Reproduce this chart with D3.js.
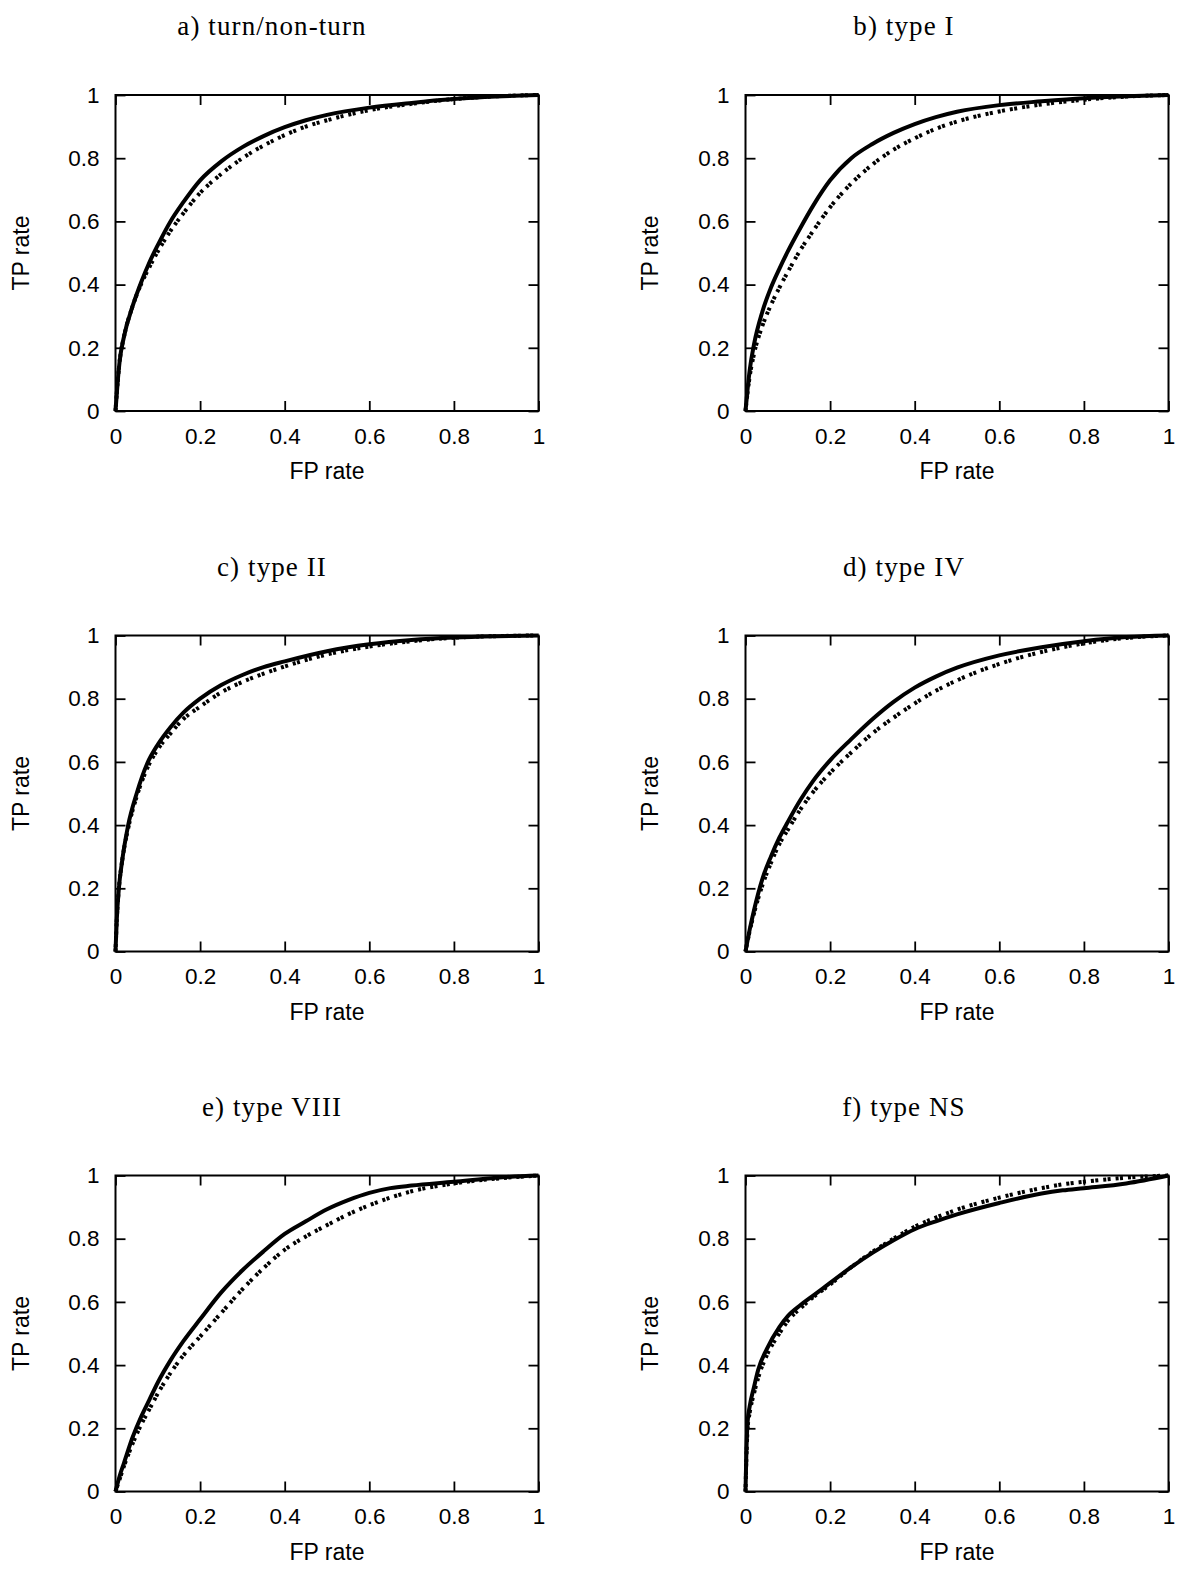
<!DOCTYPE html>
<html><head><meta charset="utf-8">
<script src="https://cdn.jsdelivr.net/npm/d3@7"></script>
<style>body{margin:0;background:#fff}</style>
</head><body><svg id="c" width="1200" height="1576"></svg>
<script>
// ---- data ----
const panelTitles = ["a) turn/non-turn", "b) type I", "c) type II", "d) type IV", "e) type VIII", "f) type NS"];
const tickValues = [0, 0.2, 0.4, 0.6, 0.8, 1];
const tickLabels = ["0", "0.2", "0.4", "0.6", "0.8", "1"];
const xLabel = "FP rate";
const yLabel = "TP rate";

const fpA = [0,0.005,0.01,0.02,0.04,0.06,0.08,0.1,0.13,0.16,0.2,0.25,0.3,0.35,0.4,0.45,0.5,0.6,0.7,0.8,0.9,1];
const tpASolid = [0,0.09,0.16,0.235,0.33,0.405,0.47,0.525,0.6,0.66,0.73,0.79,0.835,0.87,0.898,0.92,0.937,0.96,0.975,0.987,0.995,1];
const tpADotted = [0,0.09,0.16,0.235,0.33,0.4,0.455,0.505,0.57,0.625,0.69,0.75,0.8,0.84,0.873,0.9,0.92,0.952,0.972,0.987,0.996,1];

const fpB = [0,0.005,0.01,0.02,0.04,0.06,0.08,0.1,0.13,0.16,0.2,0.25,0.3,0.35,0.4,0.45,0.5,0.6,0.7,0.8,0.9,1];
const tpBSolid = [0,0.07,0.13,0.21,0.315,0.39,0.45,0.505,0.58,0.65,0.73,0.8,0.845,0.88,0.908,0.93,0.947,0.968,0.98,0.99,0.996,1];
const tpBDotted = [0,0.06,0.11,0.18,0.27,0.335,0.39,0.44,0.51,0.57,0.645,0.72,0.78,0.827,0.863,0.893,0.916,0.948,0.97,0.985,0.995,1];

const fpC = [0,0.003,0.008,0.015,0.03,0.05,0.075,0.1,0.13,0.16,0.2,0.25,0.3,0.35,0.4,0.5,0.6,0.7,0.8,0.9,1];
const tpCSolid = [0,0.1,0.2,0.28,0.4,0.5,0.595,0.655,0.71,0.755,0.8,0.843,0.875,0.9,0.918,0.95,0.972,0.986,0.994,0.998,1];
const tpCDotted = [0,0.1,0.2,0.28,0.39,0.49,0.58,0.64,0.69,0.735,0.775,0.82,0.853,0.879,0.902,0.94,0.965,0.982,0.993,0.998,1];

const fpD = [0,0.01,0.02,0.04,0.06,0.08,0.1,0.13,0.16,0.2,0.25,0.3,0.35,0.4,0.45,0.5,0.6,0.7,0.8,0.9,1];
const tpDSolid = [0,0.07,0.13,0.23,0.3,0.36,0.41,0.48,0.54,0.605,0.672,0.735,0.79,0.835,0.87,0.898,0.937,0.963,0.982,0.995,1];
const tpDDotted = [0,0.065,0.12,0.21,0.28,0.34,0.385,0.45,0.505,0.565,0.63,0.69,0.74,0.785,0.825,0.858,0.91,0.948,0.975,0.992,1];

const fpE = [0,0.01,0.02,0.04,0.06,0.08,0.1,0.13,0.16,0.2,0.25,0.3,0.35,0.4,0.45,0.5,0.55,0.6,0.65,0.7,0.8,0.9,1];
const tpESolid = [0,0.05,0.09,0.17,0.235,0.29,0.345,0.415,0.475,0.545,0.63,0.7,0.76,0.815,0.855,0.893,0.922,0.945,0.96,0.968,0.98,0.993,1];
const tpEDotted = [0,0.04,0.08,0.15,0.21,0.26,0.31,0.375,0.43,0.49,0.565,0.64,0.707,0.765,0.807,0.843,0.877,0.906,0.93,0.95,0.975,0.99,1];

const fpF = [0,0.002,0.005,0.01,0.02,0.03,0.05,0.08,0.1,0.13,0.16,0.2,0.25,0.3,0.35,0.4,0.45,0.5,0.6,0.7,0.75,0.8,0.9,1];
const tpFSolid = [0,0.12,0.22,0.27,0.33,0.385,0.45,0.52,0.555,0.59,0.62,0.66,0.71,0.755,0.795,0.83,0.855,0.877,0.913,0.943,0.953,0.96,0.975,1];
const tpFDotted = [0,0.1,0.2,0.25,0.31,0.36,0.43,0.5,0.54,0.58,0.615,0.655,0.71,0.758,0.8,0.838,0.867,0.892,0.93,0.96,0.972,0.98,0.993,1];

const panels = [
  {title: panelTitles[0], fp: fpA, solid: tpASolid, dotted: tpADotted},
  {title: panelTitles[1], fp: fpB, solid: tpBSolid, dotted: tpBDotted},
  {title: panelTitles[2], fp: fpC, solid: tpCSolid, dotted: tpCDotted},
  {title: panelTitles[3], fp: fpD, solid: tpDSolid, dotted: tpDDotted},
  {title: panelTitles[4], fp: fpE, solid: tpESolid, dotted: tpEDotted},
  {title: panelTitles[5], fp: fpF, solid: tpFSolid, dotted: tpFDotted}
];

// ---- layout ----
const W = 423, H = 316;
const colLeft = [115.5, 745.5];
const colTitleX = [272, 904];
const colYLabelX = [21, 650];
const rowTop = [95, 635.5, 1175.5];
const sans = "'Liberation Sans', Arial, Helvetica, sans-serif";
const serif = "'Liberation Serif', 'Times New Roman', serif";

const svg = d3.select("#c");
svg.append("rect").attr("width", 1200).attr("height", 1576).attr("fill", "#fff");

const x = d3.scaleLinear().domain([0, 1]).range([0, W]);
const y = d3.scaleLinear().domain([0, 1]).range([H, 0]);

panels.forEach((p, i) => {
  const col = i % 2, row = Math.floor(i / 2);
  const L = colLeft[col], T = rowTop[row];
  const g = svg.append("g").attr("transform", `translate(${L},${T})`);

  // title
  svg.append("text")
    .attr("x", colTitleX[col]).attr("y", T - 60)
    .attr("text-anchor", "middle")
    .attr("font-family", serif).attr("font-size", 27)
    .attr("letter-spacing", 1.1)
    .attr("fill", "#000")
    .text(p.title);

  // axes (ticks inward, labels outside)
  const xb = g.append("g").attr("transform", `translate(0,${H})`)
    .call(d3.axisBottom(x).tickValues(tickValues).tickFormat((d, k) => tickLabels[k]).tickSize(-10).tickPadding(17));
  const xt = g.append("g")
    .call(d3.axisTop(x).tickValues(tickValues).tickFormat("").tickSize(-10));
  const yl = g.append("g")
    .call(d3.axisLeft(y).tickValues(tickValues).tickFormat((d, k) => tickLabels[k]).tickSize(-10).tickPadding(16));
  const yr = g.append("g").attr("transform", `translate(${W},0)`)
    .call(d3.axisRight(y).tickValues(tickValues).tickFormat("").tickSize(-10));
  [xb, xt, yl, yr].forEach(a => {
    a.select(".domain").remove();
    a.selectAll(".tick line").attr("stroke", "#000").attr("stroke-width", 1.8);
    a.selectAll("text").attr("font-family", sans).attr("font-size", 22.5).attr("fill", "#000");
  });
  xb.selectAll("text").attr("dy", "0.71em");

  // curves
  const pts = (tp) => p.fp.map((f, k) => [f, tp[k]]);
  const line = d3.line().x(d => x(d[0])).y(d => y(d[1])).curve(d3.curveMonotoneX);

  g.append("path").datum(pts(p.dotted))
    .attr("d", line).attr("fill", "none").attr("stroke", "#000")
    .attr("stroke-width", 4).attr("stroke-dasharray", "3,1.4,3,5");
  g.append("path").datum(pts(p.solid))
    .attr("d", line).attr("fill", "none").attr("stroke", "#000")
    .attr("stroke-width", 4).attr("stroke-linejoin", "round");

  // frame
  g.append("rect").attr("width", W).attr("height", H)
    .attr("fill", "none").attr("stroke", "#000").attr("stroke-width", 2);

  // axis labels
  g.append("text")
    .attr("x", W / 2).attr("y", H + 68)
    .attr("text-anchor", "middle")
    .attr("font-family", sans).attr("font-size", 23).attr("fill", "#000")
    .text(xLabel);
  svg.append("text")
    .attr("transform", `translate(${colYLabelX[col] + 8}, ${T + H / 2}) rotate(-90)`)
    .attr("text-anchor", "middle")
    .attr("font-family", sans).attr("font-size", 23).attr("fill", "#000")
    .text(yLabel);
});
</script>
</body></html>
